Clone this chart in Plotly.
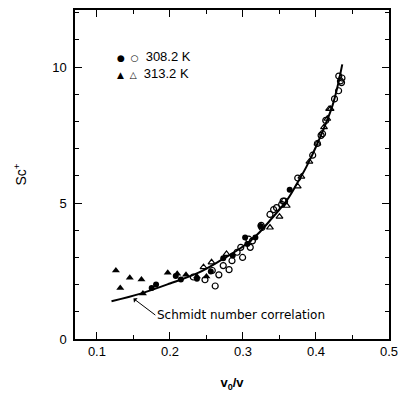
import plotly.graph_objects as go

# Schmidt number correlation curve
corr_x = [0.12, 0.16, 0.20, 0.24, 0.27, 0.30, 0.32, 0.34, 0.36, 0.373, 0.387, 0.402, 0.4228, 0.436]
corr_y = [1.39, 1.67, 2.04, 2.45, 2.9, 3.4, 3.85, 4.45, 5.1, 5.67, 6.34, 7.19, 8.6, 10.1]

# 308.2 K filled circles
fc_x = [0.175, 0.181, 0.208, 0.215, 0.237, 0.256, 0.273, 0.286, 0.303, 0.317, 0.306, 0.364, 0.324]
fc_y = [1.88, 2.0, 2.32, 2.19, 2.22, 2.48, 2.97, 3.07, 3.73, 3.73, 3.49, 5.49, 4.16]

# 308.2 K open circles
oc_x = [0.232, 0.248, 0.258, 0.267, 0.273, 0.285, 0.292, 0.2995, 0.31, 0.313, 0.325, 0.337,
        0.342, 0.353, 0.357, 0.409, 0.3955, 0.375, 0.355, 0.346, 0.326, 0.308, 0.297,
        0.4356, 0.435, 0.431, 0.4254, 0.4134, 0.407, 0.402, 0.4312, 0.4335, 0.262, 0.281]
oc_y = [2.28, 2.18, 2.52, 2.36, 2.7, 2.88, 3.19, 3.0, 3.37, 3.61, 4.18, 4.58,
        4.76, 4.95, 5.07, 7.55, 6.76, 5.92, 5.07, 4.83, 4.1, 3.67, 3.37,
        9.6, 9.43, 9.13, 8.83, 8.04, 7.49, 7.19, 9.67, 9.49, 1.95, 2.55]

# 313.2 K filled triangles
ft_x = [0.126, 0.132, 0.145, 0.161, 0.163, 0.197, 0.21, 0.222, 0.237, 0.25]
ft_y = [2.52, 1.88, 2.25, 2.19, 1.67, 2.44, 2.4, 2.36, 2.3, 2.3]

# 313.2 K open triangles
ot_x = [0.257, 0.246, 0.2775, 0.337, 0.375, 0.38, 0.391, 0.402, 0.42, 0.4155, 0.411, 0.418, 0.36, 0.35]
ot_y = [2.82, 2.64, 3.13, 4.1, 5.61, 5.97, 6.52, 7.19, 8.46, 8.1, 7.79, 8.46, 4.9, 4.5]

x_ticks = [0.1, 0.2, 0.3, 0.4, 0.5]
y_ticks = [0, 5, 10]

FONT = "Liberation Sans, Arial, sans-serif"
MS = 6

fig = go.Figure()
fig.add_trace(go.Scatter(x=corr_x, y=corr_y, mode="lines", line=dict(color="black", width=2, shape="spline"),
                         showlegend=False, hoverinfo="skip"))
fig.add_trace(go.Scatter(x=oc_x, y=oc_y, mode="markers", showlegend=False,
                         marker=dict(symbol="circle-open", size=MS, color="black", line=dict(width=1.2))))
fig.add_trace(go.Scatter(x=ot_x, y=ot_y, mode="markers", showlegend=False,
                         marker=dict(symbol="triangle-up-open", size=MS, color="black", line=dict(width=1.2))))
fig.add_trace(go.Scatter(x=fc_x, y=fc_y, mode="markers", showlegend=False,
                         marker=dict(symbol="circle", size=MS, color="black")))
fig.add_trace(go.Scatter(x=ft_x, y=ft_y, mode="markers", showlegend=False,
                         marker=dict(symbol="triangle-up", size=MS + 1, color="black")))

# legend as text
fig.add_annotation(x=0.1245, y=10.4, xref="x", yref="y", xanchor="left", yanchor="middle", showarrow=False,
                   text="<span style='font-family:DejaVu Sans;font-size:9px'>\u25CF  \u25CB</span>  308.2 K",
                   font=dict(family=FONT, size=13, color="black"))
fig.add_annotation(x=0.1245, y=9.75, xref="x", yref="y", xanchor="left", yanchor="middle", showarrow=False,
                   text="<span style='font-family:DejaVu Sans;font-size:9px'>\u25B2  \u25B3</span>  313.2 K",
                   font=dict(family=FONT, size=13, color="black"))

# correlation label with arrow
fig.add_annotation(x=0.15, y=1.49, xref="x", yref="y", ax=0.18, ay=0.88, axref="x", ayref="y",
                   text="Schmidt number correlation", xanchor="left", yanchor="middle",
                   showarrow=True, arrowhead=1, arrowsize=1, arrowwidth=1, arrowcolor="black",
                   font=dict(family="DejaVu Sans", size=12, color="black"))

axis_common = dict(showline=True, linecolor="black", linewidth=1.5, mirror="ticks", ticks="inside",
                   ticklen=7, tickwidth=1, tickcolor="black", showgrid=False, zeroline=False,
                   tickfont=dict(family=FONT, size=13, color="black"))

fig.update_xaxes(range=[0.07, 0.5], tickvals=x_ticks, ticktext=[str(v) for v in x_ticks],
                 minor=dict(ticks="inside", ticklen=4, dtick=0.05, tick0=0, tickcolor="black"),
                 title=dict(text="<b>v<sub>0</sub>/v</b>", font=dict(family=FONT, size=13, color="black"), standoff=20),
                 **axis_common)
fig.update_yaxes(range=[0, 12.1], tickvals=y_ticks, ticktext=[str(v) for v in y_ticks],
                 minor=dict(ticks="inside", ticklen=4, dtick=1, tick0=0, tickcolor="black"),
                 title=dict(text="Sc<sup>+</sup>", font=dict(family=FONT, size=14, color="black"), standoff=22),
                 ticklabelstandoff=4,
                 **axis_common)

fig.update_layout(width=406, height=396, margin=dict(l=75, r=12, t=8, b=55),
                  paper_bgcolor="white", plot_bgcolor="white", showlegend=False)

fig.write_html("out.html")
